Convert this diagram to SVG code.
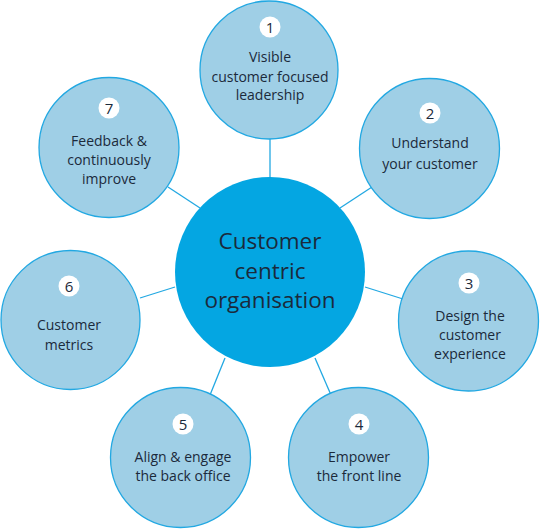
<svg xmlns="http://www.w3.org/2000/svg" width="540" height="531" viewBox="0 0 540 531">
<style>
.outer{fill:#9fcfe6;stroke:#22a8e2;stroke-width:1.3}
.badge{fill:#ffffff}
.conn{stroke:#22a8e2;stroke-width:1.3;fill:none}
text{font-family:"Open Sans","Noto Sans","Liberation Sans",sans-serif;fill:#1b2a3b;text-anchor:middle}
.lbl{font-size:14px}
.num{font-size:15px}
.main{font-size:22.5px}
</style>
<rect width="540" height="531" fill="#ffffff"/>
<g id="connectors">
<line class="conn" x1="270" y1="139" x2="270" y2="178"/>
<line class="conn" x1="340" y1="208" x2="372" y2="187"/>
<line class="conn" x1="365" y1="287" x2="403" y2="299"/>
<line class="conn" x1="315" y1="358" x2="331" y2="395"/>
<line class="conn" x1="225" y1="358" x2="210" y2="395"/>
<line class="conn" x1="175" y1="287" x2="140" y2="298"/>
<line class="conn" x1="200" y1="208" x2="168" y2="187"/>
</g>
<g id="center">
<circle cx="270" cy="272" r="95" fill="#04a6e2"/>
<text class="main" x="270" y="249">Customer</text>
<text class="main" x="270" y="279">centric</text>
<text class="main" x="270" y="308">organisation</text>
</g>
<g id="node1">
<circle class="outer" cx="269" cy="70" r="69"/>
<circle class="badge" cx="270" cy="27" r="10.5"/>
<text class="num" x="270" y="32.5">1</text>
<text class="lbl" x="270" y="62">Visible</text>
<text class="lbl" x="270" y="82">customer focused</text>
<text class="lbl" x="270" y="100">leadership</text>
</g>
<g id="node2">
<circle class="outer" cx="429.5" cy="148.5" r="70"/>
<circle class="badge" cx="430" cy="113" r="10.5"/>
<text class="num" x="430" y="118.5">2</text>
<text class="lbl" x="430" y="148">Understand</text>
<text class="lbl" x="430" y="169">your customer</text>
</g>
<g id="node3">
<circle class="outer" cx="468.5" cy="321" r="70"/>
<circle class="badge" cx="469" cy="283" r="10.5"/>
<text class="num" x="469" y="288.5">3</text>
<text class="lbl" x="470" y="321">Design the</text>
<text class="lbl" x="470" y="340">customer</text>
<text class="lbl" x="470" y="359">experience</text>
</g>
<g id="node4">
<circle class="outer" cx="358.5" cy="457.5" r="70"/>
<circle class="badge" cx="359" cy="424" r="10.5"/>
<text class="num" x="359" y="429.5">4</text>
<text class="lbl" x="359" y="462">Empower</text>
<text class="lbl" x="359" y="481">the front line</text>
</g>
<g id="node5">
<circle class="outer" cx="180.5" cy="457.5" r="70"/>
<circle class="badge" cx="183" cy="424" r="10.5"/>
<text class="num" x="183" y="429.5">5</text>
<text class="lbl" x="183" y="462">Align &amp; engage</text>
<text class="lbl" x="183" y="481">the back office</text>
</g>
<g id="node6">
<circle class="outer" cx="70.5" cy="320" r="69.5"/>
<circle class="badge" cx="69" cy="286" r="10.5"/>
<text class="num" x="69" y="291.5">6</text>
<text class="lbl" x="69" y="330">Customer</text>
<text class="lbl" x="69" y="350">metrics</text>
</g>
<g id="node7">
<circle class="outer" cx="109" cy="147.5" r="70"/>
<circle class="badge" cx="109" cy="108" r="10.5"/>
<text class="num" x="109" y="113.5">7</text>
<text class="lbl" x="109" y="146">Feedback &amp;</text>
<text class="lbl" x="109" y="165">continuously</text>
<text class="lbl" x="109" y="184">improve</text>
</g>
</svg>
